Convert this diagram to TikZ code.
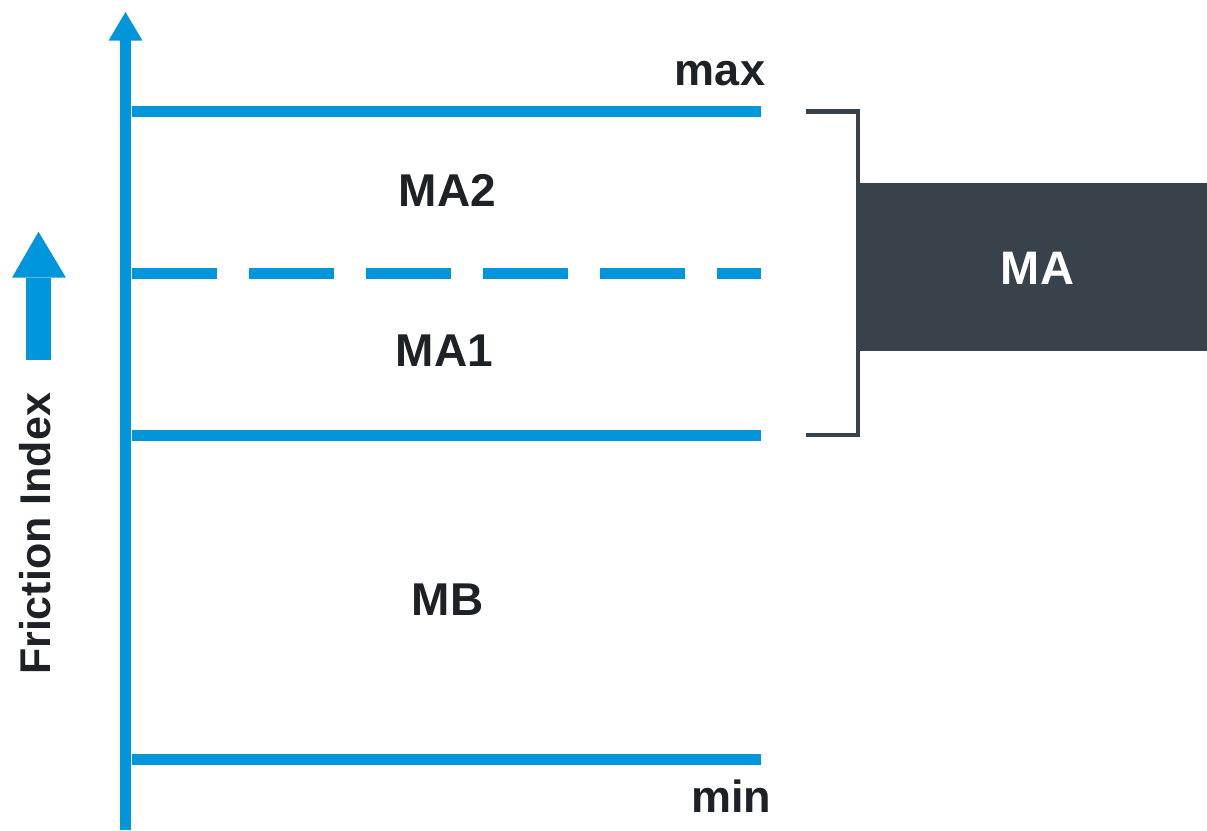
\documentclass[tikz,border=0pt]{standalone}
\usepackage{fontspec}
\setmainfont{Liberation Sans}
\definecolor{axisblue}{HTML}{0096DB}
\definecolor{slate}{HTML}{37424A}
\definecolor{ink}{HTML}{1E2226}
\tikzset{
  level/.style={axisblue, line width=10.5pt},
  zonelabel/.style={ink, font=\fontsize{46}{50}\selectfont\bfseries, anchor=base, inner sep=0pt},
  bound/.style={ink, font=\fontsize{45}{50}\selectfont\bfseries, anchor=base, inner sep=0pt},
  brace/.style={slate, line width=4.5pt, miter limit=10},
}
\begin{document}
\begin{tikzpicture}[x=1pt,y=-1pt]
\useasboundingbox (0,0) rectangle (1207,830);

% vertical axis with its arrowhead
\coordinate (axisbot) at (125.5,830);
\coordinate (axistop) at (125.5,40);
\draw[axisblue, line width=11pt] (axisbot) -- (axistop);
\fill[axisblue] (108.5,40.7) -- (125.5,12) -- (142.5,40.7) -- cycle;

% level lines
\coordinate (maxL) at (132,111.5);   \coordinate (maxR) at (761,111.5);
\coordinate (midL) at (132,273.3);   \coordinate (midR) at (761,273.3);
\coordinate (lowL) at (132,435.3);   \coordinate (lowR) at (761,435.3);
\coordinate (minL) at (132,759.5);   \coordinate (minR) at (761,759.5);
\draw[level] (maxL) -- (maxR);
\draw[level, dash pattern=on 85pt off 32pt] (midL) -- (midR);
\draw[level] (lowL) -- (lowR);
\draw[level] (minL) -- (minR);

% bound labels
\node[bound] (max) at (720,85) {max};
\node[bound] (min) at (731,812.7) {min};

% zone labels
\node[zonelabel] (ma2) at (447.5,206.7) {MA2};
\node[zonelabel] (ma1) at (444.5,366.7) {MA1};
\node[zonelabel] (mb)  at (447.5,615) {MB};

% bracket grouping MA1 and MA2
\coordinate (brTop) at (806,111.5);
\coordinate (brBot) at (806,435);
\draw[brace] (brTop) -- (858,111.5) -- (858,435) -- (brBot);

% MA box
\fill[slate] (857,182.7) rectangle (1207,351);
\node[white, font=\fontsize{47}{50}\selectfont\bfseries, anchor=base, inner sep=0pt] (ma) at (1037.5,284) {MA};

% direction arrow and axis title
\fill[axisblue] (26,360) rectangle (51,277.7);
\fill[axisblue] (12,277.7) -- (38.5,231.7) -- (66,277.7) -- cycle;
\node[ink, font=\fontsize{43}{46}\selectfont\bfseries, rotate=90, anchor=base, inner sep=0pt] (title) at (50.7,534) {Friction Index};
\end{tikzpicture}
\end{document}
